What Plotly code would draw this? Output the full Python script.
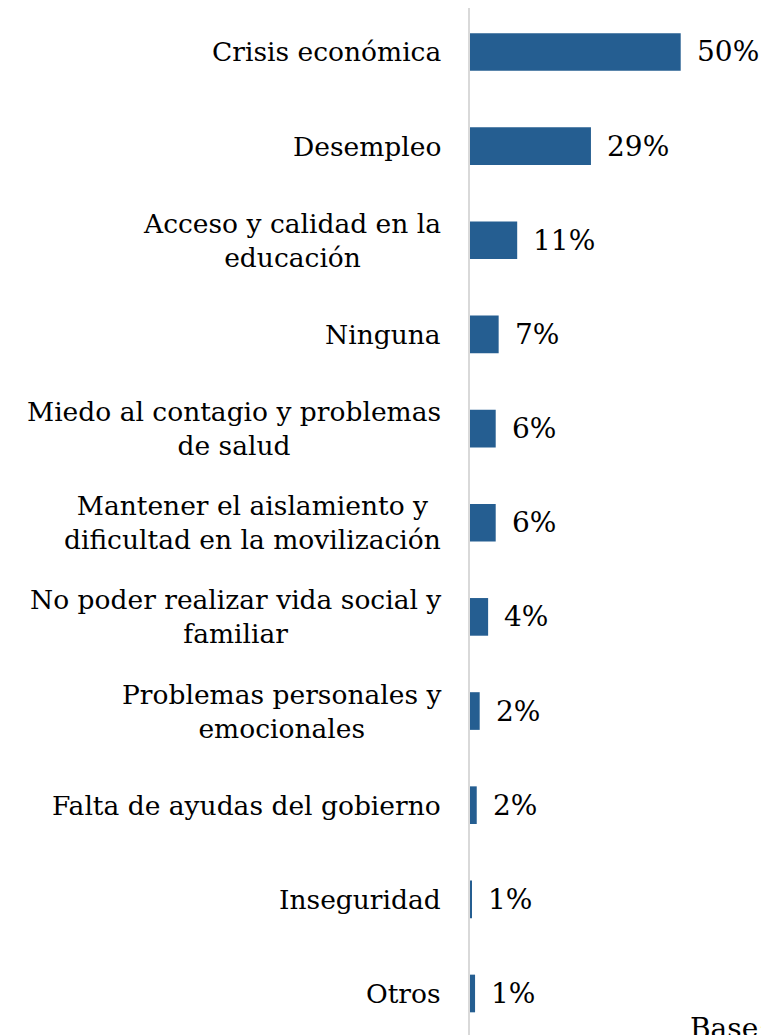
import plotly.graph_objects as go

categories = [
    "Crisis económica",
    "Desempleo",
    "Acceso y calidad en la<br>educación",
    "Ninguna",
    "Miedo al contagio y problemas<br>de salud",
    "Mantener el aislamiento y<br>dificultad en la movilización",
    "No poder realizar vida social y<br>familiar",
    "Problemas personales y<br>emocionales",
    "Falta de ayudas del gobierno",
    "Inseguridad",
    "Otros",
]
values = [50.0, 28.7, 11.2, 6.8, 6.1, 6.1, 4.3, 2.3, 1.6, 0.4, 1.2]
value_labels = ["50%", "29%", "11%", "7%", "6%", "6%", "4%", "2%", "2%", "1%", "1%"]
base_note = "Base:"

FONT = "DejaVu Serif"
FS = 26.5
FS_VAL = 28
BAR = "#255E91"

W, H = 761, 1027
ML = 462

fig = go.Figure()
fig.add_trace(go.Bar(
    y=list(range(len(categories))),
    x=values,
    orientation="h",
    marker=dict(color=BAR, line=dict(width=0)),
    width=0.4,
    hoverinfo="skip",
))

annotations = []
for i, (c, v, t) in enumerate(zip(categories, values, value_labels)):
    annotations.append(dict(
        x=0, y=i, xref="x", yref="y", text=c, showarrow=False,
        xanchor="right", yanchor="middle", align="center", xshift=-27,
        font=dict(family=FONT, size=FS, color="#000000"),
    ))
    annotations.append(dict(
        x=v, y=i, xref="x", yref="y", text=t, showarrow=False,
        xanchor="left", yanchor="middle", xshift=14,
        font=dict(family=FONT, size=FS_VAL, color="#000000"),
    ))
annotations.append(dict(
    x=(680 - ML) / (W - ML), y=1 - 1002 / H, xref="paper", yref="paper",
    text=base_note, showarrow=False, xanchor="left", yanchor="top",
    font=dict(family=FONT, size=FS_VAL, color="#000000"),
))

fig.update_layout(
    width=W, height=H,
    margin=dict(l=ML, r=0, t=0, b=0, pad=0),
    paper_bgcolor="white", plot_bgcolor="white",
    showlegend=False,
    annotations=annotations,
    xaxis=dict(range=[0, 70.95], showgrid=False, zeroline=False,
               showticklabels=False, showline=False),
    yaxis=dict(range=[10.441, -0.467], showgrid=False, zeroline=False,
               showticklabels=False, showline=True, linecolor="#D9D9D9",
               linewidth=1.5, ticks=""),
)
fig.write_html("out.html")
